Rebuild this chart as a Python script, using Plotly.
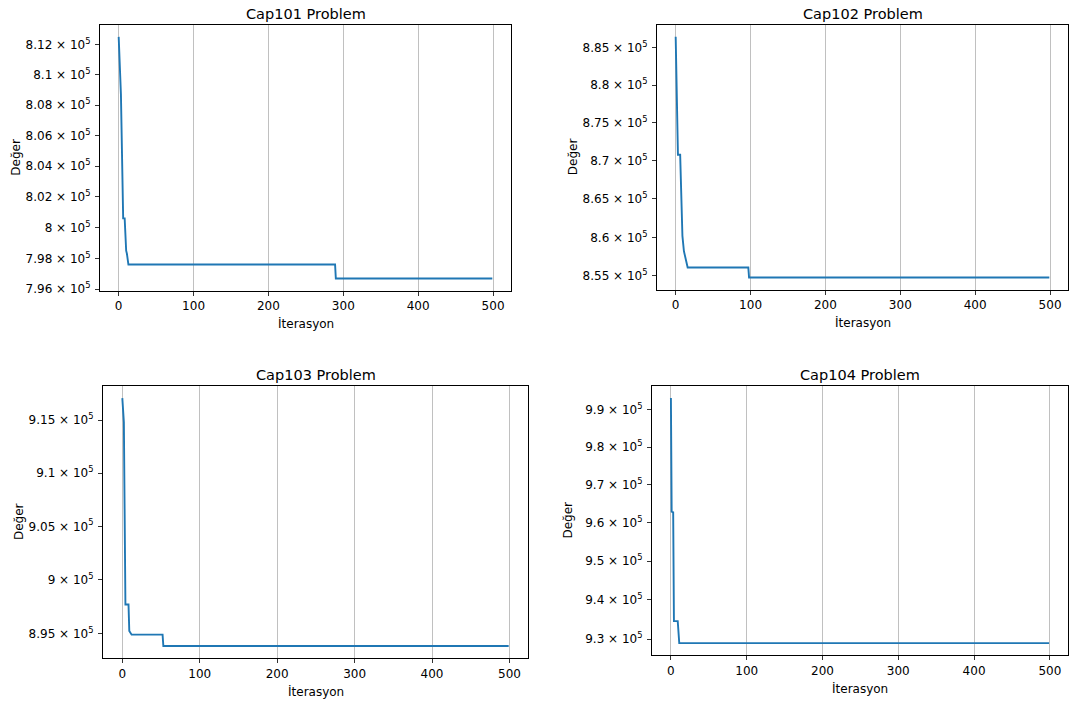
import numpy as np
import plotly.graph_objects as go

W, H = 1075, 711

# ---------------- data ----------------
titles = ["Cap101 Problem", "Cap102 Problem", "Cap103 Problem", "Cap104 Problem"]
x_label = "İterasyon"
y_label = "Değer"

it1 = [0, 3, 6, 8, 10, 11, 13, 289, 290, 499]
v1 = [812500, 808700, 800600, 800600, 798500, 798300, 797600, 797600, 796700, 796700]

it2 = [0, 1, 3, 6, 8, 9, 11, 16, 97, 98, 499]
v2 = [886450, 880200, 870800, 870800, 863700, 860200, 858200, 856100, 856100, 854800, 854800]

it3 = [0, 1, 2, 4, 8, 9, 12, 52, 53, 499]
v3 = [917100, 916300, 914800, 897700, 897700, 895250, 894900, 894900, 893850, 893850]

it4 = [0, 1, 3, 4, 9, 11, 499]
v4 = [993200, 962900, 962700, 934600, 934600, 929000, 929000]

x_ticks = [0, 100, 200, 300, 400, 500]
y_ticks1 = [796000, 798000, 800000, 802000, 804000, 806000, 808000, 810000, 812000]
y_ticks2 = [855000, 860000, 865000, 870000, 875000, 880000, 885000]
y_ticks3 = [895000, 900000, 905000, 910000, 915000]
y_ticks4 = [930000, 940000, 950000, 960000, 970000, 980000, 990000]

series = [(it1, v1, y_ticks1), (it2, v2, y_ticks2), (it3, v3, y_ticks3), (it4, v4, y_ticks4)]

# ---------------- layout (pixel boxes of each axes) ----------------
boxes = [(100, 25, 511, 293), (657, 25, 1068, 292), (103, 389, 528, 664), (652, 389, 1068, 661)]

def fx(x):
    return x / W

def fy(y):
    return 1 - y / H

def sci_label(v):
    return f"{v / 1e5:g} × 10<sup>5</sup>"

FONT = "DejaVu Sans"
fig = go.Figure()
annotations = []
layout = dict(
    width=W, height=H, autosize=False,
    margin=dict(l=0, r=0, t=0, b=0),
    paper_bgcolor="white", plot_bgcolor="white",
    showlegend=False,
    font=dict(family=FONT, size=12, color="black"),
)

for i, ((its, vals, yt), (l, t, r, b), title) in enumerate(zip(series, boxes, titles)):
    n = i + 1
    xa = "x" if n == 1 else f"x{n}"
    ya = "y" if n == 1 else f"y{n}"
    fig.add_trace(go.Scatter(x=its, y=vals, mode="lines", xaxis=xa, yaxis=ya,
                             line=dict(color="#1f77b4", width=1.9), hoverinfo="skip"))
    xmax = max(its)
    xr = [-0.05 * xmax, xmax * 1.05]
    lo, hi = np.log10(min(vals)), np.log10(max(vals))
    pad = 0.05 * (hi - lo)
    yr = [lo - pad, hi + pad]
    layout["xaxis" if n == 1 else f"xaxis{n}"] = dict(
        domain=[fx(l), fx(r)], anchor=ya, range=xr,
        tickmode="array", tickvals=x_ticks, ticktext=[str(v) for v in x_ticks],
        showgrid=True, gridcolor="#b0b0b0", gridwidth=0.8, zeroline=False,
        showline=True, mirror=True, linecolor="black", linewidth=1,
        ticks="outside", ticklen=4, tickwidth=0.8, tickcolor="black",
        tickfont=dict(family=FONT, size=12, color="black"),
    )
    layout["yaxis" if n == 1 else f"yaxis{n}"] = dict(
        domain=[fy(b), fy(t)], anchor=xa, type="log", range=yr,
        tickmode="array", tickvals=yt, ticktext=[sci_label(v) for v in yt],
        showgrid=False, zeroline=False,
        showline=True, mirror=True, linecolor="black", linewidth=1,
        ticks="outside", ticklen=4, tickwidth=0.8, tickcolor="black",
        ticklabelstandoff=2,
        tickfont=dict(family=FONT, size=12, color="black"),
    )
    cx = (l + r) / 2
    annotations.append(dict(text=title, x=fx(cx), y=fy(t - 11), xref="paper", yref="paper",
                            xanchor="center", yanchor="middle", showarrow=False,
                            font=dict(family=FONT, size=14.5, color="black")))
    annotations.append(dict(text=x_label, x=fx(cx), y=fy(b + 33), xref="paper", yref="paper",
                            xanchor="center", yanchor="middle", showarrow=False,
                            font=dict(family=FONT, size=12, color="black")))
    annotations.append(dict(text=y_label, x=fx(l - 84), y=fy((t + b) / 2), xref="paper", yref="paper",
                            xanchor="center", yanchor="middle", showarrow=False, textangle=-90,
                            font=dict(family=FONT, size=12, color="black")))

layout["annotations"] = annotations
fig.update_layout(**layout)
fig.write_html("out.html",
               config={"displayModeBar": False, "staticPlot": True},
               post_script="document.body.style.margin='0';document.body.style.padding='0';")
